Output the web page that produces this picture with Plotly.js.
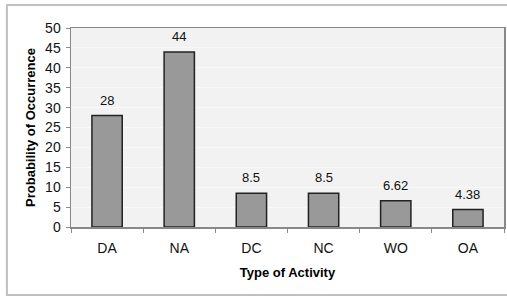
<!DOCTYPE html>
<html>
<head>
<meta charset="utf-8">
<script src="https://cdn.plot.ly/plotly-3.0.1.min.js"></script>
<style>
html,body{margin:0;padding:0;background:#fff;}
#chart{width:507px;height:296px;}
</style>
</head>
<body>
<div id="chart"></div>
<script>
const categories = ["DA", "NA", "DC", "NC", "WO", "OA"];
const values = [28, 44, 8.5, 8.5, 6.62, 4.38];
const valueLabels = ["28", "44", "8.5", "8.5", "6.62", "4.38"];
const yTicks = [0, 5, 10, 15, 20, 25, 30, 35, 40, 45, 50];

const trace = {
  type: "bar",
  x: categories,
  y: values,
  marker: {color: "#999999", line: {color: "#222222", width: 1.5}},
  width: 0.42,
  hoverinfo: "none"
};

const annotations = categories.map((c, i) => ({
  x: c, y: values[i], xref: "x", yref: "y",
  text: valueLabels[i], showarrow: false,
  yanchor: "bottom", yshift: 6,
  font: {family: "Liberation Sans, Arial, sans-serif", size: 13, color: "#111"}
}));

const layout = {
  width: 507,
  height: 296,
  margin: {l: 71, r: 3, t: 28, b: 69},
  paper_bgcolor: "#ffffff",
  plot_bgcolor: "#f2f2f2",
  showlegend: false,
  font: {family: "Liberation Sans, Arial, sans-serif", size: 13, color: "#222"},
  annotations: annotations,
  xaxis: {
    type: "category",
    showline: true,
    linecolor: "#888888",
    linewidth: 1.5,
    mirror: true,
    ticks: "outside",
    tickson: "boundaries",
    ticklen: 4,
    tickcolor: "#888888",
    showgrid: false,
    ticklabelstandoff: 8,
    tickfont: {size: 14, color: "#111"},
    title: {text: "Type of Activity", font: {size: 13, color: "#000", weight: "bold"}, standoff: 12}
  },
  yaxis: {
    range: [0, 50],
    tickvals: yTicks,
    ticktext: yTicks.map(String),
    showline: true,
    linecolor: "#888888",
    linewidth: 1.5,
    mirror: true,
    ticks: "outside",
    ticklen: 4,
    tickcolor: "#888888",
    showgrid: true,
    gridcolor: "#f8f8f8",
    gridwidth: 1,
    zeroline: false,
    ticklabelstandoff: 2,
    tickfont: {size: 14, color: "#111"},
    title: {text: "Probability of Occurrence", font: {size: 13, color: "#000", weight: "bold"}, standoff: 6}
  },
  shapes: [{
    type: "rect",
    xref: "paper", yref: "paper",
    x0: -0.148, x1: 1.05, y0: -0.342, y1: 1.115,
    line: {color: "#c0c0c0", width: 2},
    fillcolor: "rgba(0,0,0,0)",
    layer: "below"
  }]
};

Plotly.newPlot("chart", [trace], layout, {displayModeBar: false, staticPlot: true});
</script>
</body>
</html>
